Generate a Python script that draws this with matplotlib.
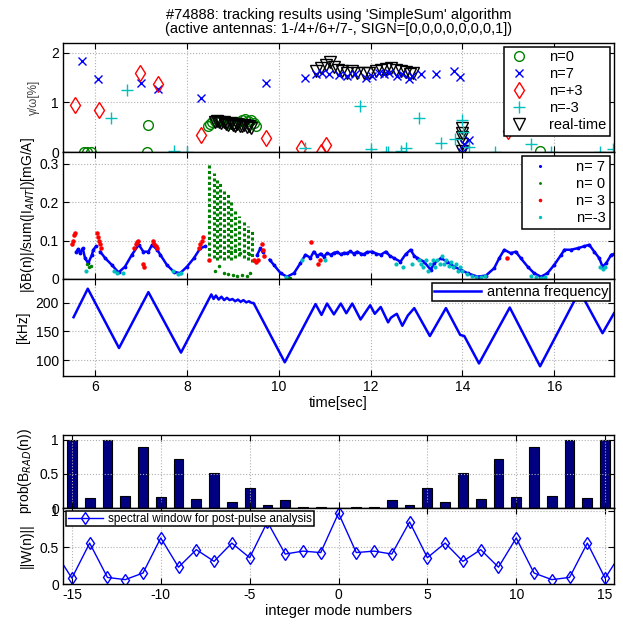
import numpy as np
import matplotlib
matplotlib.use('Agg')
import matplotlib.pyplot as plt

plt.rcParams['font.family'] = ['Liberation Sans', 'DejaVu Sans']
plt.rcParams['font.size'] = 10
plt.rcParams['axes.unicode_minus'] = False

nan = np.nan

# ---- panel 1: gamma/omega [%] ----
n0_t = [5.76, 5.83, 5.91, 7.14, 7.16, 15.68,
        8.45, 8.5, 8.55, 8.6, 8.68, 8.75, 8.82, 8.9, 8.98, 9.05, 9.12, 9.2, 9.27, 9.33, 9.4, 9.45, 9.5]
n0_v = [0.0, 0.0, 0.0, 0.0, 0.55, 0.02,
        0.52, 0.57, 0.60, 0.62, 0.64, 0.63, 0.60, 0.58, 0.56, 0.55, 0.60, 0.64, 0.66, 0.62, 0.64, 0.58, 0.52]
n7_t = [5.71, 6.07, 7.0, 7.36, 8.31, 9.72, 10.57,
        10.8, 10.94, 11.09, 11.31, 11.49, 11.67, 11.89, 12.04, 12.18, 12.29, 12.4, 12.58, 12.69, 12.84, 12.91,
        13.09, 13.42, 13.82, 13.95, 14.04, 14.15, 14.0]
n7_v = [1.83, 1.47, 1.40, 1.28, 1.09, 1.40, 1.49,
        1.57, 1.60, 1.58, 1.55, 1.54, 1.57, 1.50, 1.54, 1.60, 1.57, 1.60, 1.54, 1.57, 1.48, 1.54,
        1.57, 1.58, 1.64, 1.52, 0.17, 0.25, 0.0]
np3_t = [5.56, 6.09, 6.97, 7.36, 8.31, 9.72, 10.49, 10.92, 11.02, 14.99]
np3_v = [0.94, 0.85, 1.59, 1.38, 0.35, 0.29, 0.08, 0.0, 0.14, 0.42]
nm3_t = [6.34, 6.69, 7.71, 8.0, 10.58, 11.77, 12.0, 12.33, 12.38, 12.66, 12.77, 13.06, 13.53, 13.84,
         14.0, 14.02, 14.15, 14.7, 15.5, 15.93, 16.99, 17.28]
nm3_v = [0.68, 1.25, 0.03, 0.0, 0.09, 0.92, 0.07, 0.0, 0.0, 0.03, 0.08, 0.68, 0.18, 0.27,
         0.65, 0.41, 0.10, 0.0, 0.16, 0.0, 0.0, 0.07]
rt_t = [8.6, 8.65, 8.7, 8.75, 8.8, 8.85, 8.9, 8.95, 9.0, 9.05, 9.1, 9.15, 9.2, 9.25, 9.3, 9.35, 9.4,
        10.8, 10.91, 11.02, 11.11, 11.2, 11.29, 11.38, 11.49, 11.6, 11.71, 11.85, 11.96, 12.11, 12.22,
        12.33, 12.44, 12.55, 12.66, 12.76, 12.86, 12.93,
        14.0, 14.0, 13.99, 14.0, 14.0]
rt_v = [0.60, 0.62, 0.60, 0.58, 0.60, 0.57, 0.55, 0.58, 0.55, 0.53, 0.56, 0.53, 0.52, 0.55, 0.50, 0.52, 0.48,
        1.64, 1.69, 1.75, 1.81, 1.71, 1.66, 1.64, 1.60, 1.64, 1.60, 1.60, 1.59, 1.64, 1.66,
        1.67, 1.69, 1.66, 1.64, 1.62, 1.57, 1.60,
        0.48, 0.38, 0.30, 0.17, 0.03]

# ---- panel 2: |dB(n)|/sum(|I_ANT|) ----
b7_t = [5.59, 5.63, 5.67, 5.73, 5.78, 5.85, 5.93, 5.96, 6.02, nan,
        6.11, 6.22, 6.36, 6.51, 6.65, 6.8, 6.95, 7.05, 7.16, 7.24, 7.35, 7.42, 7.56, 7.71, 7.85,
        8.0, 8.15, 8.29, 8.4, nan, 9.53, 9.6, 9.65, nan,
        9.8, 9.89, 10.04, 10.18, 10.33, 10.47, 10.58, 10.69, 10.76, 10.84, 10.91, 10.98, 11.05,
        11.13, 11.2, 11.27, 11.35, 11.42, 11.49, 11.56, 11.63, 11.71, 11.78, 11.85, 11.92, 12.04,
        12.12, 12.22, 12.33, 12.42, 12.51, 12.65, 12.76, 12.87, 12.95, 13.02, 13.16, 13.31, 13.38,
        13.53, 13.67, 13.82, 13.96, 14.11, 14.33, 14.51, 14.69, 14.8, 14.91, 15.05, 15.16, 15.27,
        15.42, 15.56, 15.71, 15.85, 16.0, 16.15, 16.22, 16.36, 16.51, 16.65, 16.76, 16.87, 16.98,
        17.05, 17.13, 17.24, 17.3]
b7_v = [0.071, 0.078, 0.067, 0.080, 0.054, 0.041, 0.063, 0.076, 0.085, nan,
        0.071, 0.054, 0.037, 0.017, 0.032, 0.063, 0.089, 0.071, 0.071, 0.089, 0.076, 0.063, 0.037, 0.019, 0.015,
        0.032, 0.054, 0.080, 0.085, nan, 0.063, 0.080, 0.070, nan,
        0.050, 0.037, 0.015, 0.006, 0.015, 0.041, 0.063, 0.055, 0.071, 0.060, 0.066, 0.058, 0.067,
        0.063, 0.068, 0.070, 0.064, 0.068, 0.067, 0.072, 0.066, 0.071, 0.066, 0.064, 0.070, 0.071,
        0.066, 0.063, 0.071, 0.060, 0.054, 0.045, 0.064, 0.076, 0.060, 0.054, 0.045, 0.024, 0.041,
        0.054, 0.045, 0.032, 0.024, 0.015, 0.006, 0.009, 0.028, 0.054, 0.076, 0.067, 0.071, 0.054,
        0.032, 0.015, 0.006, 0.015, 0.037, 0.063, 0.076, 0.076, 0.080, 0.085, 0.089, 0.071, 0.054,
        0.032, 0.041, 0.063, 0.065]
r3_t = [5.50, 5.52, 5.54, 5.56, 6.04, 6.06, 6.08, 6.10, 6.12, 6.85, 6.88, 6.91, 6.94, 7.04, 7.06,
        7.26, 7.29, 7.32, 7.35, 8.26, 8.29, 8.32, 8.35, 8.47, 9.45, 9.50, 9.55, 9.64, 9.66, 9.68,
        10.70, 10.86, 10.90, 14.96]
r3_v = [0.090, 0.100, 0.115, 0.120, 0.120, 0.110, 0.100, 0.090, 0.080, 0.080, 0.090, 0.095, 0.100, 0.040, 0.030,
        0.100, 0.090, 0.085, 0.080, 0.080, 0.090, 0.100, 0.110, 0.050, 0.050, 0.045, 0.050, 0.090, 0.075, 0.060,
        0.095, 0.040, 0.050, 0.054]
g0_col_t = [8.49, 8.58, 8.65, 8.72, 8.81, 8.89, 8.96, 9.05, 9.14, 9.24, 9.32, 9.42]
g0_col_top = [0.302, 0.276, 0.263, 0.250, 0.233, 0.220, 0.202, 0.180, 0.163, 0.150, 0.137, 0.124]
g0_col_bot = [0.060, 0.055, 0.050, 0.055, 0.050, 0.055, 0.050, 0.055, 0.060, 0.055, 0.050, 0.045]
g0_t = [5.82, 5.86, 5.90, 8.62, 8.70, 8.80, 8.90, 9.00, 9.10, 9.20, 9.30, 9.38,
        8.95, 9.05, 9.15, 9.25, 9.35, 10.15, 10.2, 10.25, 15.68, 15.72]
g0_v = [0.040, 0.030, 0.035, 0.020, 0.035, 0.015, 0.012, 0.010, 0.008, 0.010, 0.008, 0.015,
        0.070, 0.075, 0.068, 0.072, 0.065, 0.003, 0.002, 0.003, 0.003, 0.003]
c3_t = [5.80, 6.40, 6.47, 6.60, 7.70, 7.80, 7.86, 10.15, 10.50, 11.00, 12.55, 12.70, 12.90,
        13.05, 13.10, 13.15, 13.20, 13.25, 13.30, 13.35, 13.40, 13.45, 13.50, 13.55, 13.60, 13.65,
        13.70, 13.75, 13.80, 13.85, 13.90, 13.95, 14.00, 14.10, 14.20, 14.30, 14.40, 14.50,
        15.50, 15.60, 15.70, 15.80, 17.00, 17.05, 17.10]
c3_v = [0.020, 0.020, 0.015, 0.015, 0.020, 0.012, 0.015, 0.005, 0.050, 0.050, 0.040, 0.030, 0.040,
        0.050, 0.040, 0.030, 0.050, 0.020, 0.040, 0.050, 0.030, 0.050, 0.040, 0.060, 0.040, 0.050,
        0.035, 0.045, 0.030, 0.040, 0.020, 0.030, 0.020, 0.012, 0.008, 0.005, 0.005, 0.008,
        0.008, 0.004, 0.003, 0.005, 0.030, 0.025, 0.030]

# ---- panel 3: antenna frequency [kHz] ----
f_t = [5.53, 5.84, 6.52, 7.16, 7.87, 8.53, 8.58, 8.63, 8.69, 8.75, 8.81, 8.87, 8.93, 8.99, 9.05,
       9.11, 9.17, 9.23, 9.29, 9.35, 9.41, 9.45, 10.13, 10.80, 10.93, 11.05, 11.20, 11.35, 11.47,
       11.60, 11.78, 11.99, 12.09, 12.22, 12.38, 12.44, 12.51, 12.57, 12.69, 12.81, 12.95, 13.29,
       13.64, 13.95, 14.04, 14.36, 15.03, 15.69, 16.55, 17.05, 17.30]
f_v = [175, 225, 121, 219, 113, 215, 207, 213, 206, 211, 205, 209, 205, 207, 203,
       206, 202, 205, 201, 203, 200, 200, 96, 198, 179, 199, 180, 199, 182,
       199, 171, 196, 181, 193, 166, 174, 178, 181, 160, 178, 191, 142,
       191, 144, 142, 94, 192, 89, 221, 147, 182]

# ---- bottom panels ----
modes = list(range(-15, 16))
prob_half = [1.0, 0.15, 0.99, 0.17, 0.89, 0.16, 0.72, 0.13, 0.51, 0.09, 0.29, 0.05, 0.11, 0.02, 0.02]
prob = prob_half + [0.005] + prob_half[::-1]
win_modes = list(range(-16, 17))
win_half = [0.46, 0.08, 0.56, 0.09, 0.06, 0.15, 0.63, 0.23, 0.47, 0.31, 0.56, 0.36, 0.85, 0.41, 0.45, 0.43]
win = win_half + [0.97] + win_half[::-1]

BLUE = (0, 0, 1)
GREEN = (0, 0.5, 0)
RED = (1, 0, 0)
CYAN = (0, 0.75, 0.75)

W, H = 623, 624
fig = plt.figure(figsize=(W / 100, H / 100), dpi=100)


def box(y_top, y_bot, x0=63, x1=614):
    return [x0 / W, 1 - y_bot / H, (x1 - x0) / W, (y_bot - y_top) / H]


def style(ax):
    ax.tick_params(direction='in', top=True, right=True, length=4, labelsize=10, pad=3)
    ax.grid(True, color='#b0b0b0', linestyle=':', linewidth=0.8)
    for s in ax.spines.values():
        s.set_linewidth(1.0)


def leg_frame(leg):
    leg.get_frame().set_linewidth(1.1)


ax1 = fig.add_axes(box(43, 152))
ax2 = fig.add_axes(box(152, 279))
ax3 = fig.add_axes(box(279, 376))
ax4 = fig.add_axes(box(435, 508))
ax5 = fig.add_axes(box(508, 584))

for ax in (ax1, ax2, ax3):
    ax.set_xlim(5.3, 17.3)
    ax.set_xticks([6, 8, 10, 12, 14, 16])
    style(ax)

# panel 1
ax1.plot(n0_t, n0_v, 'o', ms=7, mfc='none', mec=GREEN, mew=1.0, label='n=0')
ax1.plot(rt_t, rt_v, 'v', ms=8, mfc='none', mec='k', mew=1.0, label='_rt')
ax1.plot(n7_t, n7_v, 'x', ms=6, color=BLUE, mew=1.0, label='n=7')
ax1.plot(np3_t, np3_v, 'd', ms=8, mfc='none', mec=RED, mew=1.0, label='n=+3')
ax1.plot(nm3_t, nm3_v, '+', ms=8, color=CYAN, mew=1.0, label='n=-3')
ax1.plot([], [], 'v', ms=8, mfc='none', mec='k', mew=1.0, label='real-time')
ax1.set_ylim(0, 2.2)
ax1.set_yticks([0, 1, 2])
ax1.set_xticklabels([])
ax1.set_ylabel('γ/ω[%]', fontsize=8.5, color='#404040', labelpad=8)
ax1.set_title("#74888: tracking results using 'SimpleSum' algorithm\n"
              "(active antennas: 1-/4+/6+/7-, SIGN=[0,0,0,0,0,0,0,1])",
              fontsize=10.5, pad=7, linespacing=1.05)
leg = ax1.legend(loc='upper right', fontsize=10.5, fancybox=False, edgecolor='k', framealpha=1,
                 handletextpad=1.3, borderpad=0.25, labelspacing=0.2, handlelength=1.6,
                 borderaxespad=0.25)
leg_frame(leg)

# panel 2
ax2.plot(b7_t, b7_v, '.-', color=BLUE, lw=1.8, ms=3.5, label='n= 7')
ax2.vlines(g0_col_t, g0_col_bot, g0_col_top, colors=GREEN, linestyles=(0, (1, 0.8)), lw=2.2)
ax2.plot(g0_t, g0_v, '.', color=GREEN, ms=3, label='n= 0')
ax2.plot(r3_t, r3_v, '.', color=RED, ms=4.5, label='n= 3')
ax2.plot(c3_t, c3_v, '.', color=CYAN, ms=4, label='n=-3')
ax2.set_ylim(0, 0.33)
ax2.set_yticks([0, 0.1, 0.2, 0.3])
ax2.set_yticklabels(['0', '0.1', '0.2', '0.3'])
ax2.set_xticklabels([])
ax2.set_ylabel('|δB(n)|/sum(|I$_{ANT}$|)[mG/A]', fontsize=10, labelpad=2)
leg = ax2.legend(loc='upper right', fontsize=10.5, fancybox=False, edgecolor='k', framealpha=1,
                 markerscale=0.7, handletextpad=1.6, borderpad=0.3, labelspacing=0.2, handlelength=1.8,
                 borderaxespad=0.25)
for h in leg.legend_handles:
    h.set_linestyle('none')
leg_frame(leg)

# panel 3
ax3.plot(f_t, f_v, color=BLUE, lw=1.8, label='antenna frequency')
ax3.set_ylim(72, 242)
ax3.set_yticks([100, 150, 200])
ax3.set_ylabel('[kHz]', fontsize=10, labelpad=4)
ax3.set_xlabel('time[sec]', fontsize=10.5, labelpad=1)
leg = ax3.legend(loc='upper right', fontsize=10.5, fancybox=False, edgecolor='k', framealpha=1,
                 borderpad=0.15, handlelength=3.2, handletextpad=0.4, borderaxespad=0.25)
leg_frame(leg)

# bars
ax4.bar(modes, prob, width=0.55, color=(0, 0, 0.5), edgecolor='k', linewidth=0.8)
ax4.set_xlim(-15.5, 15.5)
ax4.set_ylim(0, 1.07)
ax4.set_yticks([0, 0.5, 1])
ax4.set_yticklabels(['0', '0.5', '1'])
ax4.set_xticks([-15, -10, -5, 0, 5, 10, 15])
ax4.set_xticklabels([])
style(ax4)
ax4.set_ylabel('prob(B$_{RAD}$(n))', fontsize=10, labelpad=4)

# spectral window
ax5.plot(win_modes, win, '-d', color=BLUE, lw=1.0, ms=6, mfc='none', mew=1.0,
         label='spectral window for post-pulse analysis')
ax5.set_xlim(-15.5, 15.5)
ax5.set_ylim(0, 1.04)
ax5.set_yticks([0, 0.5, 1])
ax5.set_yticklabels(['0', '0.5', '1'])
ax5.set_xticks([-15, -10, -5, 0, 5, 10, 15])
style(ax5)
ax5.set_ylabel('||W(n)||', fontsize=10, labelpad=4)
ax5.set_xlabel('integer mode numbers', fontsize=10.5, labelpad=1)
leg = ax5.legend(loc='upper left', fontsize=8.5, fancybox=False, edgecolor='k', framealpha=1,
                 borderpad=0.15, handlelength=3.0, handletextpad=0.4, borderaxespad=0.25)
leg_frame(leg)

fig.savefig('out.png', dpi=100)
